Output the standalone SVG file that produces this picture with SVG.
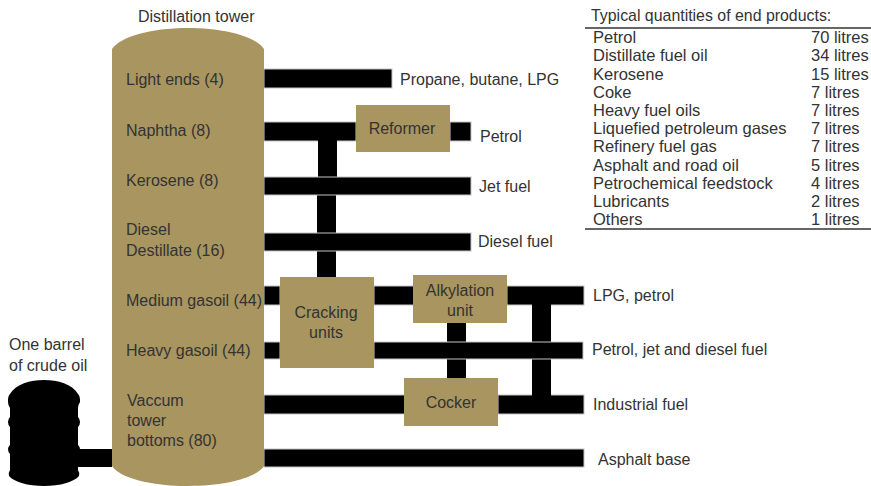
<svg xmlns="http://www.w3.org/2000/svg" width="871" height="486" viewBox="0 0 871 486">
<style>
text{font-family:"Liberation Sans",Arial,sans-serif;font-size:16px;fill:#333}
.n{fill:#a8955f}
.p{fill:#000}
.x{fill:#000;stroke:#c4c4c4;stroke-width:1}
.r{stroke:#666;stroke-width:2}
.e{text-anchor:middle}
.t{font-size:16.5px}
.h{font-size:15.9px}
</style>
<rect width="871" height="486" fill="#fff"/>
<g id="connectors">
<rect class="p" x="76" y="449" width="36" height="18"/>
<rect class="x" x="264" y="69" width="128" height="19"/>
<rect class="x" x="264" y="122" width="92" height="19"/>
<rect class="x" x="450" y="122" width="21" height="19"/>
<rect class="x" x="264" y="286" width="16" height="19"/>
<rect class="x" x="374" y="286" width="40" height="19"/>
<rect class="x" x="507" y="286" width="77" height="19"/>
<rect class="x" x="264" y="395" width="141" height="19"/>
<rect class="x" x="498" y="395" width="86" height="19"/>
<rect class="x" x="264" y="449" width="320" height="18"/>
<rect class="p" x="318" y="140" width="19" height="38"/>
<rect class="p" x="317" y="194" width="19" height="39"/>
<rect class="p" x="317" y="250" width="19" height="27"/>
<rect class="p" x="447" y="323" width="19" height="20"/>
<rect class="p" x="447" y="358" width="19" height="20"/>
<rect class="p" x="532" y="304" width="19" height="39"/>
<rect class="p" x="532" y="358" width="19" height="38"/>
<rect class="x" x="264" y="177" width="207" height="18"/>
<rect class="x" x="264" y="233" width="207" height="18"/>
<rect class="x" x="264" y="342" width="16" height="17"/>
<rect class="x" x="374" y="342" width="209" height="17"/>
</g>
<g id="barrel">
<path class="p" d="M10 394C16 384 30 380 44 380C58 380 72 384 78 394Q80 396 80 399V402Q78 405 78 408V417Q80 419 80 422Q80 425 78 427V445Q80 447 80 449Q80 452 78 454V470Q80 473 79 476C74 482 60 486 44 486C28 486 14 482 9 476Q8 473 10 470V454Q8 452 8 449Q8 447 10 445V427Q8 425 8 422Q8 419 10 417V408Q8 405 8 402V399Q8 396 10 394Z"/>
<text x="9" y="350">One barrel</text>
<text x="9" y="371">of crude oil</text>
</g>
<g id="tower">
<path class="n" d="M112 49C120 37 150 28 188 28C226 28 256 37 264 49V466C256 478 226 486 188 486C150 486 120 478 112 466Z"/>
<text x="138" y="22">Distillation tower</text>
<text x="126" y="85">Light ends (4)</text>
<text x="126" y="136">Naphtha (8)</text>
<text x="126" y="186">Kerosene (8)</text>
<text x="126" y="235">Diesel</text>
<text x="126" y="256">Destillate (16)</text>
<text x="126" y="306">Medium gasoil (44)</text>
<text x="126" y="356">Heavy gasoil (44)</text>
<text x="127" y="406">Vaccum</text>
<text x="127" y="426">tower</text>
<text x="127" y="446">bottoms (80)</text>
</g>
<g id="reformer"><rect class="n" x="356" y="105" width="94" height="47"/><text class="e" x="402" y="134">Reformer</text></g>
<g id="cracking"><rect class="n" x="280" y="277" width="94" height="91"/><text class="e" x="326" y="318">Cracking</text><text class="e" x="326" y="338">units</text></g>
<g id="alkylation"><rect class="n" x="413" y="275" width="94" height="48"/><text class="e" x="460" y="296">Alkylation</text><text class="e" x="460" y="316">unit</text></g>
<g id="cocker"><rect class="n" x="404" y="378" width="94" height="48"/><text class="e" x="451" y="408">Cocker</text></g>
<g id="labels">
<text x="400" y="85">Propane, butane, LPG</text>
<text x="480" y="142">Petrol</text>
<text x="479" y="192">Jet fuel</text>
<text x="478" y="247">Diesel fuel</text>
<text x="593" y="301">LPG, petrol</text>
<text x="592" y="355">Petrol, jet and diesel fuel</text>
<text x="593" y="410">Industrial fuel</text>
<text x="598" y="465">Asphalt base</text>
</g>
<g id="table">
<text class="h" x="591" y="21">Typical quantities of end products:</text>
<line class="r" x1="585" y1="28" x2="871" y2="28"/>
<line class="r" x1="585" y1="229" x2="871" y2="229"/>
<text class="t" x="593" y="43">Petrol</text><text class="t" x="811" y="43">70 litres</text>
<text class="t" x="593" y="61">Distillate fuel oil</text><text class="t" x="811" y="61">34 litres</text>
<text class="t" x="593" y="80">Kerosene</text><text class="t" x="811" y="80">15 litres</text>
<text class="t" x="593" y="98">Coke</text><text class="t" x="811" y="98">7 litres</text>
<text class="t" x="593" y="116">Heavy fuel oils</text><text class="t" x="811" y="116">7 litres</text>
<text class="t" x="593" y="134">Liquefied petroleum gases</text><text class="t" x="811" y="134">7 litres</text>
<text class="t" x="593" y="152">Refinery fuel gas</text><text class="t" x="811" y="152">7 litres</text>
<text class="t" x="593" y="171">Asphalt and road oil</text><text class="t" x="811" y="171">5 litres</text>
<text class="t" x="593" y="189">Petrochemical feedstock</text><text class="t" x="811" y="189">4 litres</text>
<text class="t" x="593" y="207">Lubricants</text><text class="t" x="811" y="207">2 litres</text>
<text class="t" x="593" y="225">Others</text><text class="t" x="811" y="225">1 litres</text>
</g>
</svg>
